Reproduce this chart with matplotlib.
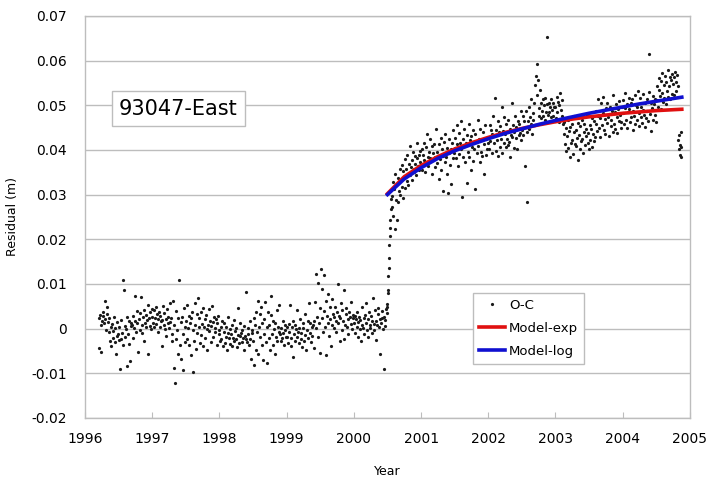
import numpy as np
import matplotlib.pyplot as plt

# O-C residuals in mm; each list covers its own time span
res_1996 = [2.4, -4.3, 3.1, 0.7, -5.2, 1.8, 3.6, 2.9, 1.3, 6.1, 2.2, -0.4, 3.3, 4.8, 1.5,
            -0.8, 2.3, -2.7, 0.4, -3.9, 1.1, -2.2, -0.6, 2.6, -3.1, 0.2, -5.8, -1.7, 1.4, -1.2,
            -2.6, 0.3, -9.1, 1.9, -2.4, -0.9, 10.8, -3.6, 8.7, 0.6, -1.8, -0.2, -8.3, 2.7, -1.3,
            1.6, -3.4, -7.2, 0.5, 1.2,
            0.9, -2.1, 2.8, 0.1, 7.4, 1.7, -0.7, 3.9, 1.2, -5.3, 2.1, -0.3, 3.4, 7.0, 0.8,
            -1.1, 2.5, 4.2, -2.8, 1.3, 3.1, 0.4, 1.9, 5.2, -5.6, 2.3, 0.6, 3.7, -0.1, 4.4]
res_1997 = [2.7, 1.2, 4.1, 0.3, 2.4, 4.8, 1.1, 3.3, -0.8, 2.2, 3.7, 0.4, 2.9, 1.6, -3.8,
            1.9, 5.1, 0.8, 3.4, -0.2, 2.1, -1.7, 4.3, 1.3, 2.6, 0.2, 1.4, 5.7, 2.3, -1.2,
            -2.7, 6.2, -8.9, 0.8, -12.1, -2.3, 3.9, -0.4, -5.8, 2.3, 10.9, -3.6, 1.4, -6.8, 2.7,
            -1.3, -9.2, 4.6, 0.3, -3.1,
            1.8, -2.4, 5.3, 0.2, -3.7, 2.8, 1.2, -5.9, 2.4, 3.6, -9.8, -0.3, -2.8, 5.8, 0.9,
            -4.6, 3.2, -0.9, 6.9, 0.4, 2.3, -3.2, 3.8, -1.4, 1.1, 4.7, -3.9, 0.3, 2.2, -2.1,
            3.1, -0.2, -4.8, 0.7, 4.3, -0.6, 1.7, -2.9, 0.5, 5.1, 1.4, -1.8, 2.6, 0.1, -0.8,
            2.1, -3.7, 1.2, 2.9, -0.4]
res_1998 = [-1.2, -2.8, 0.3, -2.3, 1.6, -3.9, -0.7, 1.2, -3.3, -1.8, 0.4, -4.7, -1.1, 2.6, -2.2,
            -3.4, -0.2, -1.3, -3.8, 0.8, -2.1, -2.7, 1.9, -0.6, -2.4, 0.2, -4.1, -1.4, 4.7, -3.2,
            -1.7, 1.3, -0.9, -3.1, -0.3, -2.2, -4.8, 0.6, -1.6, -2.3, 8.1, -2.9, 0.1, -1.2, -3.6,
            1.7, -2.4, -6.8, -0.4, -1.1,
            -2.8, 2.3, -8.1, 0.7, -4.9, 3.8, -0.8, 6.1, -5.7, 0.4, 3.2, -1.8, 4.8, -3.7, 1.3,
            -7.1, 2.1, -1.2, 5.9, -2.9, 0.3, -7.8, 3.7, -2.2, 0.9, -4.8, 3.1, 7.4, -1.3, -3.6,
            1.8, -0.2, -5.8, 1.2, -1.9, 4.2, -2.7, 0.4, 5.3, -0.7,
            -1.3, -2.8, 0.2, -2.1, 1.7, -0.9, -3.7, -0.3, 0.8, -1.8]
res_1999 = [-1.8, 0.3, -3.2, 1.1, -0.7, 5.2, -3.8, -2.2, 0.4, 1.8, -6.3, -1.2, 0.9, -2.7, -0.2,
            -1.9, 4.1, -0.8, -3.3, 0.2, 2.2, -2.4, -1.1, -4.2, 1.3, 0.1, -2.8, 3.2, -1.4, -4.7,
            -0.3, 1.7, -2.1, 5.8, -0.9, 1.2, -3.1, 0.3, -1.7, 0.8,
            1.8, -4.3, 5.9, 0.2, 12.3, 2.7, -1.8, 10.1, 1.2, 4.6, -5.4, 13.4, 2.3, 8.8, -0.7,
            3.9, 12.1, 0.4, 6.2, -5.9, 2.8, 1.3, 7.8, -1.7, 4.8, 2.1, -3.8, 6.6, 0.9, 3.2,
            2.7, 0.2, 4.9, 1.8, -0.8, 3.7, 9.9, 1.2, 2.9, -2.8, 2.3, 5.7, -0.3, 4.1, 1.7,
            -2.3, 8.7, 0.8, 3.3, 4.6, 0.4, 2.2, -1.2, 3.8, 2.6, 1.1, 5.9, -0.1, 2.4, 3.1]
res_2000_pre = [1.2, 2.8, -0.9, 2.1, 0.3, 3.7, -1.8, 1.4, 2.6, -0.2, 1.9, -2.7, 0.8, 4.9, 0.1,
                2.3, -1.2, 3.1, 1.3, 5.8, -0.4, -1.9, 2.2, 3.8, 0.7, 0.2, 2.9, -1.1, 1.6, 6.8,
                1.1, -0.3, 4.2, 1.8, -2.6, 0.9, 3.3, 4.7, 0.4, 2.1, -5.7, 1.3, 3.9, 2.4, -0.2,
                2.7, -9.1, 0.6, 1.9, 4.3]
res_2000_jump = [3.4, 5.6, 4.8, 8.7, 7.9, 11.8, 13.6, 15.9, 18.7, 20.8, 22.6, 24.3, 26.8, 29.1]
res_2000_post = [29.6, 27.3, 32.8, 25.1, 31.2, 22.4, 34.7, 28.8, 32.3, 24.2, 28.4, 33.6, 30.7, 35.8,
                 29.9, 33.2, 36.6, 31.7, 29.2, 35.3, 33.8, 37.9, 31.4, 35.7, 33.1, 38.8, 34.6, 32.2,
                 36.9, 40.8, 34.3, 36.2, 37.7, 33.3, 39.6, 35.8, 35.1, 38.7, 36.9, 34.4, 38.2, 41.6,
                 36.3, 35.4, 38.9, 37.2, 39.8]
res_2001 = [36.6, 40.3, 35.4, 38.9, 41.5, 37.7, 35.1, 40.6, 37.3, 43.5, 38.5, 36.4, 39.6, 38.1, 42.4,
            37.6, 40.9, 34.5, 39.2, 41.4, 38.4, 36.2, 44.6, 39.5, 37.1, 38.7, 33.4, 41.3, 37.9, 42.6,
            35.5, 40.2, 30.8, 38.6, 41.7, 37.4, 43.6, 38.3, 34.6, 40.5, 30.3, 39.4, 42.5, 36.7, 40.1,
            32.4, 41.6, 38.2, 44.5, 39.3,
            40.4, 42.6, 38.2, 45.5, 41.3, 36.5, 43.7, 39.1, 41.6, 46.5, 40.2, 29.4, 42.5, 38.4, 44.6,
            40.8, 37.3, 41.5, 43.4, 32.7, 39.6, 45.7, 38.5, 42.3, 35.6, 43.2, 40.7, 44.4, 37.6, 40.3,
            43.5, 31.3, 41.7, 39.4, 46.6, 40.9, 42.4, 37.2, 44.7, 39.5, 42.2, 38.6, 43.9, 34.7, 41.4,
            45.6, 38.8, 42.5, 40.3, 41.6]
res_2002 = [42.6, 40.3, 45.5, 41.9, 44.4, 39.2, 43.6, 47.7, 41.5, 43.1, 51.6, 39.8, 44.5, 42.3, 46.4,
            38.6, 43.9, 45.4, 40.7, 42.5, 49.5, 39.4, 44.2, 41.6, 47.3, 43.5, 40.6, 45.9, 42.4, 41.1,
            46.6, 41.8, 44.7, 38.5, 43.3, 50.6, 42.9, 45.6, 40.4, 44.1, 47.5, 42.6, 45.2, 40.1, 46.5,
            43.4, 45.8, 43.7, 48.6, 42.2,
            44.5, 47.6, 43.3, 46.5, 36.4, 45.2, 48.6, 44.1, 28.3, 46.4, 49.5, 44.7, 47.4, 45.9, 51.5,
            43.6, 48.3, 46.8, 50.6, 45.5, 54.6, 56.5, 59.3, 52.4, 55.7, 47.6, 49.4, 53.5, 47.1, 50.5,
            48.6, 51.4, 47.5, 50.1, 46.6, 51.7, 48.4, 50.3, 65.3, 47.8, 50.6, 48.5, 49.6, 47.3, 51.5,
            48.9, 47.7, 50.4, 49.6, 46.5]
res_2003 = [49.6, 47.2, 51.9, 48.4, 50.7, 46.3, 50.1, 52.8, 48.9, 47.5, 51.2, 45.8,
            43.6, 46.2, 41.4, 44.9, 39.7, 43.1, 46.8, 40.5, 44.3, 38.4, 45.1, 41.6, 45.7, 42.2, 39.1,
            43.9, 47.6, 41.3, 44.5, 40.8, 42.6, 37.8, 46.1, 43.4, 40.2, 45.3, 41.9, 46.7, 42.4, 39.3,
            44.1, 45.8, 41.2, 44.6, 43.2, 47.9, 41.5, 43.8, 40.1, 45.6, 42.3, 44.7, 40.6, 47.2, 43.5,
            42.1, 46.4, 42.8,
            45.9, 48.6, 44.2, 47.7, 51.3, 44.8, 47.1, 42.9, 50.4, 45.6, 48.2, 51.8, 44.4, 46.9, 43.6,
            49.3, 46.1, 50.6, 47.4, 43.2, 48.1, 49.7, 45.3, 46.6, 48.8, 44.1, 52.2, 45.9, 48.4, 44.6,
            50.2, 47.3, 43.8, 49.1, 46.5, 50.9, 47.8, 44.9, 46.2, 49.6]
res_2004 = [48.3, 51.2, 45.7, 49.4, 52.8, 46.6, 50.3, 44.9, 48.5, 51.7, 49.1, 46.2, 50.6, 47.3, 51.4,
            44.4, 48.8, 47.6, 52.3, 45.9, 50.1, 46.7, 49.5, 53.2, 45.3, 48.2, 51.6, 47.4, 49.7, 46.1,
            48.9, 52.5, 47.8, 45.2, 50.4, 47.1, 51.3, 48.6, 46.4, 52.9, 61.4, 48.1, 50.5, 44.2, 49.3,
            52.1, 46.8, 50.2, 47.9, 51.5, 46.3,
            51.2, 54.3, 49.6, 53.4, 56.2, 52.1, 49.2, 55.4, 52.7, 57.3, 50.8, 54.5, 51.6, 56.6, 50.3,
            55.1, 53.2, 57.8, 51.9, 54.2, 56.4, 51.3, 55.6, 57.1, 52.6, 54.7, 56.3, 52.2, 57.5, 55.3,
            53.1, 56.8, 54.4]
res_2004_end = [42.3, 40.1, 43.4, 38.8, 41.2, 44.1, 38.3, 40.7]

# (list, start epoch, end epoch)
spans = [(res_1996, 1996.20, 1997.00), (res_1997, 1997.00, 1998.00),
         (res_1998, 1998.00, 1999.00), (res_1999, 1999.00, 2000.00),
         (res_2000_pre, 2000.00, 2000.49), (res_2000_jump, 2000.49, 2000.56),
         (res_2000_post, 2000.56, 2001.00), (res_2001, 2001.00, 2002.00),
         (res_2002, 2002.00, 2003.00), (res_2003, 2003.00, 2004.00),
         (res_2004, 2004.00, 2004.83), (res_2004_end, 2004.83, 2004.88)]

# model curves (m)
model_t = [2000.5, 2000.75, 2001.0, 2001.25, 2001.5, 2001.75, 2002.0, 2002.25, 2002.5,
           2002.75, 2003.0, 2003.25, 2003.5, 2003.75, 2004.0, 2004.25, 2004.5, 2004.75, 2004.88]
model_exp = [0.0302, 0.0340, 0.0365, 0.0385, 0.0402, 0.0416, 0.0428, 0.0439, 0.0448,
             0.0456, 0.0463, 0.0469, 0.0474, 0.0478, 0.0482, 0.0485, 0.0488, 0.0490, 0.0491]
model_log = [0.0300, 0.0335, 0.0360, 0.0381, 0.0398, 0.0412, 0.0425, 0.0437, 0.0447,
             0.0457, 0.0466, 0.0474, 0.0482, 0.0489, 0.0496, 0.0503, 0.0509, 0.0515, 0.0518]

t_all, r_all = [], []
for vals, t0, t1 in spans:
    t_all.append(np.linspace(t0, t1, len(vals), endpoint=False))
    r_all.append(np.array(vals) / 1000.0)
t_all = np.concatenate(t_all)
r_all = np.concatenate(r_all)

grid_col = '#bdbdbd'

fig = plt.figure(figsize=(7.09, 4.82), dpi=100)
ax = fig.add_axes([0.12, 0.133, 0.853, 0.834])

ax.plot(t_all, r_all, linestyle='none', marker='o', markersize=2.3,
        color='#1a1a1a', markeredgewidth=0, label='O-C')
ax.plot(model_t, model_exp, color='#e01010', linewidth=2.6, label='Model-exp')
ax.plot(model_t, model_log, color='#1010d0', linewidth=2.6, label='Model-log')

ax.set_xlim(1996, 2005)
ax.set_ylim(-0.02, 0.07)
ax.set_xticks(range(1996, 2006))
ax.set_yticks(np.arange(-0.02, 0.071, 0.01))
ax.set_yticklabels(['-0.02', '-0.01', '0', '0.01', '0.02', '0.03', '0.04', '0.05', '0.06', '0.07'])
ax.yaxis.grid(True, color=grid_col, linewidth=1.0)
ax.set_axisbelow(True)
for s in ax.spines.values():
    s.set_color(grid_col)
    s.set_linewidth(1.0)
ax.tick_params(axis='x', direction='in', length=4, color=grid_col, labelsize=10, pad=10)
ax.tick_params(axis='y', length=0, labelsize=10, pad=13)

ax.set_xlabel('Year', fontsize=9, labelpad=14)
ax.set_ylabel('Residual (m)', fontsize=9, labelpad=9)

ax.text(0.154, 0.769, '93047-East', transform=ax.transAxes, fontsize=15,
        ha='center', va='center',
        bbox=dict(boxstyle='square,pad=0.35', facecolor='white', edgecolor=grid_col))

leg = ax.legend(loc='upper left', bbox_to_anchor=(0.641, 0.311), fontsize=9.5,
                fancybox=False, framealpha=1, edgecolor=grid_col, handlelength=2.0,
                handletextpad=0.3, borderpad=0.45, labelspacing=0.75, borderaxespad=0)

fig.savefig('out.png', dpi=100)
